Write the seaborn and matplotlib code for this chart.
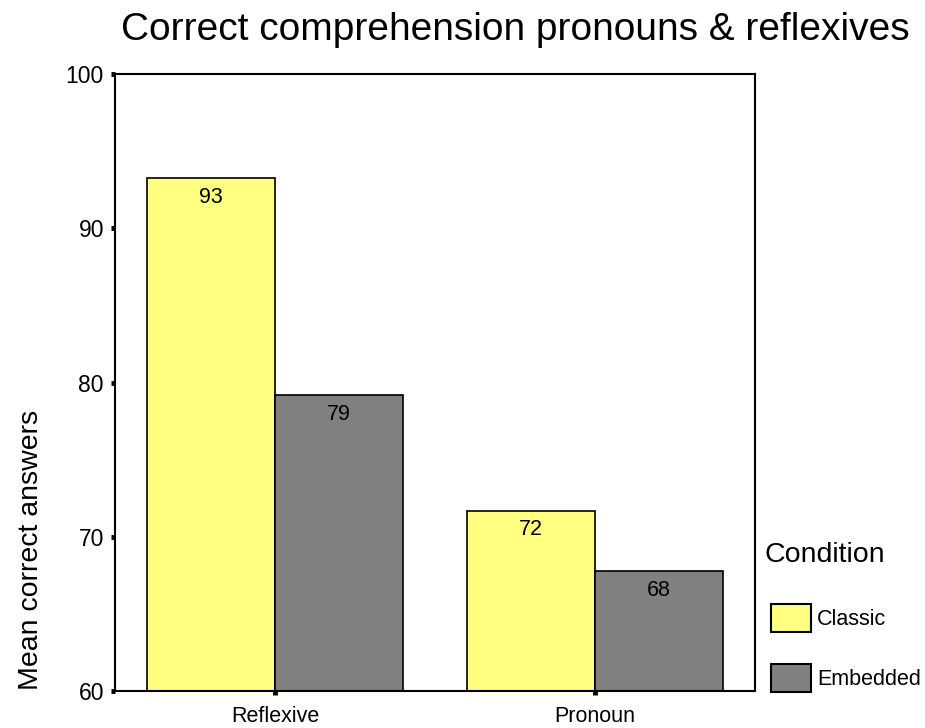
import matplotlib
matplotlib.use("Agg")
import matplotlib.pyplot as plt
import seaborn as sns
import pandas as pd

# Data
categories = ["Reflexive", "Pronoun"]
conditions = ["Classic", "Embedded"]
classic_values = [93.26, 71.7]
embedded_values = [79.2, 67.75]
yticks = [60, 70, 80, 90, 100]

df = pd.DataFrame({
    "Type": categories * 2,
    "Condition": [conditions[0]] * 2 + [conditions[1]] * 2,
    "Value": classic_values + embedded_values,
})

sns.set_theme(style="white")
plt.rcParams["font.family"] = ["Liberation Sans", "DejaVu Sans"]
plt.rcParams["text.color"] = "black"
plt.rcParams["axes.labelcolor"] = "black"
plt.rcParams["xtick.color"] = "black"
plt.rcParams["ytick.color"] = "black"

fig = plt.figure(figsize=(9.25, 7.28), dpi=100)
ax = fig.add_axes([115 / 925, 1 - 691 / 728, 640 / 925, 617 / 728])

palette = {"Classic": "#FFFF80", "Embedded": "#808080"}
sns.barplot(data=df, x="Type", y="Value", hue="Condition", order=categories,
            hue_order=conditions, palette=palette, saturation=1,
            edgecolor="black", linewidth=1.2, width=0.8, ax=ax, errorbar=None)

for cont in ax.containers:
    ax.bar_label(cont, fmt="%.0f", padding=-21.5, fontsize=15.5, color="black")

ax.set_ylim(60, 100)
ax.set_xlim(-0.5, 1.5)
ax.set_yticks(yticks)
ax.set_yticklabels([str(v) for v in yticks], fontsize=16.5)
ax.tick_params(axis="y", which="major", length=3, width=3.5, direction="out",
               pad=5, color="black", left=True)
ax.tick_params(axis="x", which="major", length=3, width=3.5, direction="out",
               pad=7.5, color="black", bottom=True, labelsize=15.5)
ax.set_xlabel("")
ax.set_ylabel("")
for s in ax.spines.values():
    s.set_color("black")
    s.set_linewidth(1.5)
    s.set_visible(True)

handles, labels = ax.get_legend_handles_labels()
ax.get_legend().remove()
leg = fig.legend(handles, labels, loc="upper left",
                 bbox_to_anchor=(771 / 925, 1 - 604 / 728), frameon=False,
                 fontsize=15.5, handlelength=1.85, handleheight=1.6,
                 handletextpad=0.3, labelspacing=1.5,
                 borderpad=0, borderaxespad=0)
for h in leg.legend_handles:
    h.set_edgecolor("black")
    h.set_linewidth(1.5)

fig.text(765 / 925, 1 - 562 / 728, "Condition", ha="left", va="baseline",
         fontsize=20.5)
fig.text(515 / 925, 1 - 40 / 728, "Correct comprehension pronouns & reflexives",
         ha="center", va="baseline", fontsize=28)
fig.text(31 / 925, 1 - 550 / 728, "Mean correct answers", rotation=90,
         ha="center", va="center", fontsize=20.5)

fig.savefig("out.png", dpi=100)
